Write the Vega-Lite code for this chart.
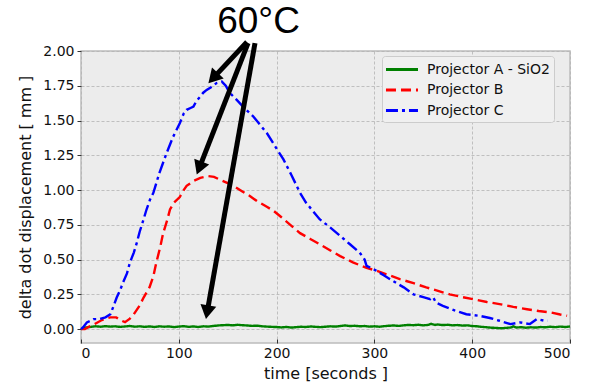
{
  "$schema": "https://vega.github.io/schema/vega-lite/v6.json",
  "width": 489,
  "height": 292,
  "autosize": {"type": "none"},
  "padding": {"left": 81, "top": 51, "right": 20, "bottom": 41},
  "background": "white",
  "config": {
    "view": {"fill": "#ececec", "stroke": "#bcbcbc", "strokeWidth": 1.5},
    "axis": {
      "domain": false,
      "gridColor": "#b4b4b4",
      "gridDash": [3, 2],
      "gridWidth": 0.8,
      "tickColor": "#333333",
      "tickWidth": 1,
      "labelFont": "DejaVu Sans",
      "labelFontSize": 14,
      "labelColor": "#111111",
      "labelOverlap": false,
      "titleFont": "DejaVu Sans",
      "titleFontSize": 16,
      "titleFontWeight": "normal",
      "titleColor": "#111111"
    }
  },
  "datasets": {
    "lines": [
      {"time": 0, "value": 0.0, "series": "Projector A - SiO2"},
      {"time": 5, "value": 0.012, "series": "Projector A - SiO2"},
      {"time": 10, "value": 0.016, "series": "Projector A - SiO2"},
      {"time": 15, "value": 0.02, "series": "Projector A - SiO2"},
      {"time": 20, "value": 0.017, "series": "Projector A - SiO2"},
      {"time": 25, "value": 0.021, "series": "Projector A - SiO2"},
      {"time": 30, "value": 0.018, "series": "Projector A - SiO2"},
      {"time": 35, "value": 0.02, "series": "Projector A - SiO2"},
      {"time": 40, "value": 0.016, "series": "Projector A - SiO2"},
      {"time": 45, "value": 0.019, "series": "Projector A - SiO2"},
      {"time": 50, "value": 0.022, "series": "Projector A - SiO2"},
      {"time": 55, "value": 0.017, "series": "Projector A - SiO2"},
      {"time": 60, "value": 0.02, "series": "Projector A - SiO2"},
      {"time": 65, "value": 0.016, "series": "Projector A - SiO2"},
      {"time": 70, "value": 0.019, "series": "Projector A - SiO2"},
      {"time": 75, "value": 0.015, "series": "Projector A - SiO2"},
      {"time": 80, "value": 0.02, "series": "Projector A - SiO2"},
      {"time": 85, "value": 0.017, "series": "Projector A - SiO2"},
      {"time": 90, "value": 0.019, "series": "Projector A - SiO2"},
      {"time": 95, "value": 0.014, "series": "Projector A - SiO2"},
      {"time": 100, "value": 0.018, "series": "Projector A - SiO2"},
      {"time": 105, "value": 0.021, "series": "Projector A - SiO2"},
      {"time": 110, "value": 0.016, "series": "Projector A - SiO2"},
      {"time": 115, "value": 0.019, "series": "Projector A - SiO2"},
      {"time": 120, "value": 0.015, "series": "Projector A - SiO2"},
      {"time": 125, "value": 0.02, "series": "Projector A - SiO2"},
      {"time": 130, "value": 0.018, "series": "Projector A - SiO2"},
      {"time": 135, "value": 0.022, "series": "Projector A - SiO2"},
      {"time": 140, "value": 0.026, "series": "Projector A - SiO2"},
      {"time": 145, "value": 0.028, "series": "Projector A - SiO2"},
      {"time": 150, "value": 0.03, "series": "Projector A - SiO2"},
      {"time": 155, "value": 0.027, "series": "Projector A - SiO2"},
      {"time": 160, "value": 0.031, "series": "Projector A - SiO2"},
      {"time": 165, "value": 0.028, "series": "Projector A - SiO2"},
      {"time": 170, "value": 0.026, "series": "Projector A - SiO2"},
      {"time": 175, "value": 0.023, "series": "Projector A - SiO2"},
      {"time": 180, "value": 0.025, "series": "Projector A - SiO2"},
      {"time": 185, "value": 0.02, "series": "Projector A - SiO2"},
      {"time": 190, "value": 0.018, "series": "Projector A - SiO2"},
      {"time": 195, "value": 0.016, "series": "Projector A - SiO2"},
      {"time": 200, "value": 0.015, "series": "Projector A - SiO2"},
      {"time": 205, "value": 0.012, "series": "Projector A - SiO2"},
      {"time": 210, "value": 0.015, "series": "Projector A - SiO2"},
      {"time": 215, "value": 0.011, "series": "Projector A - SiO2"},
      {"time": 220, "value": 0.014, "series": "Projector A - SiO2"},
      {"time": 225, "value": 0.017, "series": "Projector A - SiO2"},
      {"time": 230, "value": 0.015, "series": "Projector A - SiO2"},
      {"time": 235, "value": 0.019, "series": "Projector A - SiO2"},
      {"time": 240, "value": 0.016, "series": "Projector A - SiO2"},
      {"time": 245, "value": 0.014, "series": "Projector A - SiO2"},
      {"time": 250, "value": 0.017, "series": "Projector A - SiO2"},
      {"time": 255, "value": 0.02, "series": "Projector A - SiO2"},
      {"time": 260, "value": 0.018, "series": "Projector A - SiO2"},
      {"time": 265, "value": 0.022, "series": "Projector A - SiO2"},
      {"time": 270, "value": 0.026, "series": "Projector A - SiO2"},
      {"time": 275, "value": 0.022, "series": "Projector A - SiO2"},
      {"time": 280, "value": 0.024, "series": "Projector A - SiO2"},
      {"time": 285, "value": 0.02, "series": "Projector A - SiO2"},
      {"time": 290, "value": 0.022, "series": "Projector A - SiO2"},
      {"time": 295, "value": 0.018, "series": "Projector A - SiO2"},
      {"time": 300, "value": 0.02, "series": "Projector A - SiO2"},
      {"time": 305, "value": 0.017, "series": "Projector A - SiO2"},
      {"time": 310, "value": 0.021, "series": "Projector A - SiO2"},
      {"time": 315, "value": 0.024, "series": "Projector A - SiO2"},
      {"time": 320, "value": 0.026, "series": "Projector A - SiO2"},
      {"time": 325, "value": 0.023, "series": "Projector A - SiO2"},
      {"time": 330, "value": 0.027, "series": "Projector A - SiO2"},
      {"time": 335, "value": 0.03, "series": "Projector A - SiO2"},
      {"time": 340, "value": 0.028, "series": "Projector A - SiO2"},
      {"time": 345, "value": 0.031, "series": "Projector A - SiO2"},
      {"time": 350, "value": 0.027, "series": "Projector A - SiO2"},
      {"time": 355, "value": 0.03, "series": "Projector A - SiO2"},
      {"time": 358, "value": 0.038, "series": "Projector A - SiO2"},
      {"time": 362, "value": 0.03, "series": "Projector A - SiO2"},
      {"time": 365, "value": 0.033, "series": "Projector A - SiO2"},
      {"time": 370, "value": 0.029, "series": "Projector A - SiO2"},
      {"time": 375, "value": 0.031, "series": "Projector A - SiO2"},
      {"time": 380, "value": 0.027, "series": "Projector A - SiO2"},
      {"time": 385, "value": 0.029, "series": "Projector A - SiO2"},
      {"time": 390, "value": 0.025, "series": "Projector A - SiO2"},
      {"time": 395, "value": 0.027, "series": "Projector A - SiO2"},
      {"time": 400, "value": 0.022, "series": "Projector A - SiO2"},
      {"time": 405, "value": 0.02, "series": "Projector A - SiO2"},
      {"time": 410, "value": 0.016, "series": "Projector A - SiO2"},
      {"time": 415, "value": 0.013, "series": "Projector A - SiO2"},
      {"time": 420, "value": 0.01, "series": "Projector A - SiO2"},
      {"time": 425, "value": 0.008, "series": "Projector A - SiO2"},
      {"time": 430, "value": 0.006, "series": "Projector A - SiO2"},
      {"time": 435, "value": 0.009, "series": "Projector A - SiO2"},
      {"time": 440, "value": 0.012, "series": "Projector A - SiO2"},
      {"time": 442, "value": 0.02, "series": "Projector A - SiO2"},
      {"time": 445, "value": 0.011, "series": "Projector A - SiO2"},
      {"time": 450, "value": 0.014, "series": "Projector A - SiO2"},
      {"time": 455, "value": 0.01, "series": "Projector A - SiO2"},
      {"time": 460, "value": 0.013, "series": "Projector A - SiO2"},
      {"time": 465, "value": 0.011, "series": "Projector A - SiO2"},
      {"time": 470, "value": 0.015, "series": "Projector A - SiO2"},
      {"time": 475, "value": 0.013, "series": "Projector A - SiO2"},
      {"time": 480, "value": 0.017, "series": "Projector A - SiO2"},
      {"time": 485, "value": 0.014, "series": "Projector A - SiO2"},
      {"time": 490, "value": 0.018, "series": "Projector A - SiO2"},
      {"time": 495, "value": 0.015, "series": "Projector A - SiO2"},
      {"time": 500, "value": 0.019, "series": "Projector A - SiO2"},

      {"time": 0, "value": 0.0, "series": "Projector B"},
      {"time": 4, "value": 0.0, "series": "Projector B"},
      {"time": 10, "value": 0.025, "series": "Projector B"},
      {"time": 14, "value": 0.036, "series": "Projector B"},
      {"time": 20, "value": 0.06, "series": "Projector B"},
      {"time": 25, "value": 0.075, "series": "Projector B"},
      {"time": 30, "value": 0.084, "series": "Projector B"},
      {"time": 36, "value": 0.084, "series": "Projector B"},
      {"time": 40, "value": 0.065, "series": "Projector B"},
      {"time": 45, "value": 0.05, "series": "Projector B"},
      {"time": 50, "value": 0.075, "series": "Projector B"},
      {"time": 54, "value": 0.107, "series": "Projector B"},
      {"time": 60, "value": 0.17, "series": "Projector B"},
      {"time": 64, "value": 0.227, "series": "Projector B"},
      {"time": 70, "value": 0.3, "series": "Projector B"},
      {"time": 74, "value": 0.38, "series": "Projector B"},
      {"time": 77, "value": 0.478, "series": "Projector B"},
      {"time": 81, "value": 0.59, "series": "Projector B"},
      {"time": 84, "value": 0.69, "series": "Projector B"},
      {"time": 88, "value": 0.78, "series": "Projector B"},
      {"time": 91, "value": 0.86, "series": "Projector B"},
      {"time": 95, "value": 0.91, "series": "Projector B"},
      {"time": 98, "value": 0.93, "series": "Projector B"},
      {"time": 101, "value": 0.95, "series": "Projector B"},
      {"time": 105, "value": 1.0, "series": "Projector B"},
      {"time": 108, "value": 1.03, "series": "Projector B"},
      {"time": 115, "value": 1.065, "series": "Projector B"},
      {"time": 122, "value": 1.087, "series": "Projector B"},
      {"time": 130, "value": 1.1, "series": "Projector B"},
      {"time": 136, "value": 1.095, "series": "Projector B"},
      {"time": 142, "value": 1.075, "series": "Projector B"},
      {"time": 150, "value": 1.05, "series": "Projector B"},
      {"time": 156, "value": 1.03, "series": "Projector B"},
      {"time": 165, "value": 0.99, "series": "Projector B"},
      {"time": 173, "value": 0.956, "series": "Projector B"},
      {"time": 180, "value": 0.92, "series": "Projector B"},
      {"time": 190, "value": 0.88, "series": "Projector B"},
      {"time": 197, "value": 0.85, "series": "Projector B"},
      {"time": 204, "value": 0.81, "series": "Projector B"},
      {"time": 214, "value": 0.75, "series": "Projector B"},
      {"time": 224, "value": 0.69, "series": "Projector B"},
      {"time": 234, "value": 0.65, "series": "Projector B"},
      {"time": 244, "value": 0.61, "series": "Projector B"},
      {"time": 255, "value": 0.565, "series": "Projector B"},
      {"time": 265, "value": 0.525, "series": "Projector B"},
      {"time": 278, "value": 0.48, "series": "Projector B"},
      {"time": 292, "value": 0.44, "series": "Projector B"},
      {"time": 302, "value": 0.42, "series": "Projector B"},
      {"time": 314, "value": 0.39, "series": "Projector B"},
      {"time": 326, "value": 0.36, "series": "Projector B"},
      {"time": 340, "value": 0.33, "series": "Projector B"},
      {"time": 353, "value": 0.3, "series": "Projector B"},
      {"time": 365, "value": 0.275, "series": "Projector B"},
      {"time": 377, "value": 0.25, "series": "Projector B"},
      {"time": 390, "value": 0.23, "series": "Projector B"},
      {"time": 401, "value": 0.215, "series": "Projector B"},
      {"time": 415, "value": 0.195, "series": "Projector B"},
      {"time": 428, "value": 0.18, "series": "Projector B"},
      {"time": 442, "value": 0.16, "series": "Projector B"},
      {"time": 456, "value": 0.143, "series": "Projector B"},
      {"time": 468, "value": 0.13, "series": "Projector B"},
      {"time": 480, "value": 0.12, "series": "Projector B"},
      {"time": 490, "value": 0.105, "series": "Projector B"},
      {"time": 497, "value": 0.096, "series": "Projector B"},

      {"time": 0, "value": 0.0, "series": "\u00a0Projector C"},
      {"time": 2, "value": 0.012, "series": "\u00a0Projector C"},
      {"time": 6, "value": 0.048, "series": "\u00a0Projector C"},
      {"time": 10, "value": 0.06, "series": "\u00a0Projector C"},
      {"time": 13, "value": 0.072, "series": "\u00a0Projector C"},
      {"time": 19, "value": 0.072, "series": "\u00a0Projector C"},
      {"time": 25, "value": 0.085, "series": "\u00a0Projector C"},
      {"time": 30, "value": 0.107, "series": "\u00a0Projector C"},
      {"time": 33, "value": 0.16, "series": "\u00a0Projector C"},
      {"time": 36.5, "value": 0.227, "series": "\u00a0Projector C"},
      {"time": 40, "value": 0.28, "series": "\u00a0Projector C"},
      {"time": 43, "value": 0.335, "series": "\u00a0Projector C"},
      {"time": 47, "value": 0.4, "series": "\u00a0Projector C"},
      {"time": 50, "value": 0.478, "series": "\u00a0Projector C"},
      {"time": 54, "value": 0.55, "series": "\u00a0Projector C"},
      {"time": 57, "value": 0.62, "series": "\u00a0Projector C"},
      {"time": 60, "value": 0.7, "series": "\u00a0Projector C"},
      {"time": 64, "value": 0.79, "series": "\u00a0Projector C"},
      {"time": 67, "value": 0.86, "series": "\u00a0Projector C"},
      {"time": 70.5, "value": 0.93, "series": "\u00a0Projector C"},
      {"time": 74, "value": 0.98, "series": "\u00a0Projector C"},
      {"time": 80, "value": 1.12, "series": "\u00a0Projector C"},
      {"time": 87.6, "value": 1.267, "series": "\u00a0Projector C"},
      {"time": 94, "value": 1.38, "series": "\u00a0Projector C"},
      {"time": 101, "value": 1.48, "series": "\u00a0Projector C"},
      {"time": 105, "value": 1.55, "series": "\u00a0Projector C"},
      {"time": 108, "value": 1.577, "series": "\u00a0Projector C"},
      {"time": 112, "value": 1.59, "series": "\u00a0Projector C"},
      {"time": 115, "value": 1.6, "series": "\u00a0Projector C"},
      {"time": 118, "value": 1.64, "series": "\u00a0Projector C"},
      {"time": 121.7, "value": 1.67, "series": "\u00a0Projector C"},
      {"time": 125, "value": 1.7, "series": "\u00a0Projector C"},
      {"time": 128.5, "value": 1.72, "series": "\u00a0Projector C"},
      {"time": 133, "value": 1.74, "series": "\u00a0Projector C"},
      {"time": 138.7, "value": 1.77, "series": "\u00a0Projector C"},
      {"time": 144, "value": 1.78, "series": "\u00a0Projector C"},
      {"time": 148, "value": 1.75, "series": "\u00a0Projector C"},
      {"time": 152, "value": 1.7, "series": "\u00a0Projector C"},
      {"time": 159, "value": 1.65, "series": "\u00a0Projector C"},
      {"time": 167, "value": 1.59, "series": "\u00a0Projector C"},
      {"time": 176, "value": 1.53, "series": "\u00a0Projector C"},
      {"time": 183, "value": 1.47, "series": "\u00a0Projector C"},
      {"time": 190, "value": 1.41, "series": "\u00a0Projector C"},
      {"time": 198, "value": 1.32, "series": "\u00a0Projector C"},
      {"time": 207, "value": 1.22, "series": "\u00a0Projector C"},
      {"time": 215, "value": 1.11, "series": "\u00a0Projector C"},
      {"time": 224, "value": 0.98, "series": "\u00a0Projector C"},
      {"time": 230, "value": 0.91, "series": "\u00a0Projector C"},
      {"time": 237, "value": 0.85, "series": "\u00a0Projector C"},
      {"time": 244, "value": 0.79, "series": "\u00a0Projector C"},
      {"time": 255, "value": 0.73, "series": "\u00a0Projector C"},
      {"time": 265, "value": 0.67, "series": "\u00a0Projector C"},
      {"time": 275, "value": 0.61, "series": "\u00a0Projector C"},
      {"time": 285, "value": 0.55, "series": "\u00a0Projector C"},
      {"time": 290, "value": 0.5, "series": "\u00a0Projector C"},
      {"time": 292, "value": 0.455, "series": "\u00a0Projector C"},
      {"time": 302, "value": 0.42, "series": "\u00a0Projector C"},
      {"time": 310, "value": 0.385, "series": "\u00a0Projector C"},
      {"time": 319, "value": 0.346, "series": "\u00a0Projector C"},
      {"time": 330, "value": 0.3, "series": "\u00a0Projector C"},
      {"time": 340, "value": 0.25, "series": "\u00a0Projector C"},
      {"time": 350, "value": 0.23, "series": "\u00a0Projector C"},
      {"time": 357, "value": 0.215, "series": "\u00a0Projector C"},
      {"time": 360, "value": 0.23, "series": "\u00a0Projector C"},
      {"time": 363, "value": 0.19, "series": "\u00a0Projector C"},
      {"time": 370, "value": 0.167, "series": "\u00a0Projector C"},
      {"time": 382, "value": 0.135, "series": "\u00a0Projector C"},
      {"time": 394, "value": 0.107, "series": "\u00a0Projector C"},
      {"time": 408, "value": 0.095, "series": "\u00a0Projector C"},
      {"time": 418, "value": 0.08, "series": "\u00a0Projector C"},
      {"time": 428, "value": 0.06, "series": "\u00a0Projector C"},
      {"time": 439, "value": 0.036, "series": "\u00a0Projector C"},
      {"time": 449, "value": 0.048, "series": "\u00a0Projector C"},
      {"time": 459, "value": 0.036, "series": "\u00a0Projector C"},
      {"time": 466, "value": 0.072, "series": "\u00a0Projector C"},
      {"time": 474, "value": 0.06, "series": "\u00a0Projector C"},
      {"time": 477, "value": 0.06, "series": "\u00a0Projector C"}
    ],
    "arrows": [
      {"arrow": 1, "t0": 169.7, "v0": 2.065, "t1": 135.1, "v1": 1.805},
      {"arrow": 2, "t0": 170.8, "v0": 2.057, "t1": 120.9, "v1": 1.158},
      {"arrow": 3, "t0": 177.9, "v0": 2.057, "t1": 129.0, "v1": 0.121}
    ],
    "label": [
      {"t": 181.5, "v": 2.129, "text": "60°C"}
    ]
  },
  "layer": [
    {
      "data": {"name": "lines"},
      "mark": {"type": "line", "strokeWidth": 2.4, "interpolate": "linear"},
      "encoding": {
        "x": {
          "field": "time", "type": "quantitative", "title": "time [seconds ]",
          "scale": {"domain": [0, 500], "nice": false, "zero": false},
          "axis": {"values": [0, 100, 200, 300, 400, 500], "tickSize": -4, "labelPadding": 7, "titlePadding": 5, "format": "d"}
        },
        "y": {
          "field": "value", "type": "quantitative", "title": "delta dot displacement [ mm ]",
          "scale": {"domain": [-0.1, 2.0], "nice": false, "zero": false},
          "axis": {"values": [0, 0.25, 0.5, 0.75, 1.0, 1.25, 1.5, 1.75, 2.0], "format": ".2f", "tickSize": 4, "labelPadding": 3, "titlePadding": 9, "labelOverlap": false}
        },
        "color": {
          "field": "series", "type": "nominal",
          "scale": {"domain": ["Projector A - SiO2", "Projector B", "\u00a0Projector C"], "range": ["#008000", "#ff0000", "#0000ff"]},
          "legend": {
            "title": null, "orient": "none", "legendX": 301, "legendY": 5,
            "fillColor": "#f0f0f0", "strokeColor": "#cccccc", "cornerRadius": 3, "padding": 4,
            "symbolType": "M-1.19,0L2.81,0", "symbolSize": 256, "symbolStrokeWidth": 3,
            "labelFont": "DejaVu Sans", "labelFontSize": 14, "labelColor": "#111111", "labelOffset": 22,
            "rowPadding": 3.5
          }
        },
        "strokeDash": {
          "field": "series", "type": "nominal",
          "scale": {"domain": ["Projector A - SiO2", "Projector B", "\u00a0Projector C"], "range": [[1, 0], [10, 5], [12, 4, 3, 4]]},
          "legend": {
            "title": null, "orient": "none", "legendX": 301, "legendY": 5,
            "fillColor": "#f0f0f0", "strokeColor": "#cccccc", "cornerRadius": 3, "padding": 4,
            "symbolType": "M-1.19,0L2.81,0", "symbolSize": 256, "symbolStrokeWidth": 3,
            "labelFont": "DejaVu Sans", "labelFontSize": 14, "labelColor": "#111111", "labelOffset": 22,
            "rowPadding": 3.5
          }
        }
      }
    },
    {
      "data": {"name": "arrows"},
      "mark": {"type": "rule", "color": "black", "strokeWidth": 5},
      "encoding": {
        "x": {"field": "t0", "type": "quantitative", "title": "time [seconds ]",
          "axis": {"values": [0, 100, 200, 300, 400, 500], "tickSize": -4, "labelPadding": 7, "titlePadding": 5, "format": "d"}},
        "y": {"field": "v0", "type": "quantitative", "title": "delta dot displacement [ mm ]",
          "axis": {"values": [0, 0.25, 0.5, 0.75, 1.0, 1.25, 1.5, 1.75, 2.0], "format": ".2f", "tickSize": 4, "labelPadding": 3, "titlePadding": 9, "labelOverlap": false}},
        "x2": {"field": "t1"},
        "y2": {"field": "v1"}
      }
    },
    {
      "data": {"name": "arrows"},
      "transform": [{"filter": "datum.arrow == 1"}],
      "mark": {"type": "point", "shape": "triangle-up", "filled": true, "color": "black", "size": 256, "opacity": 1, "angle": 223},
      "encoding": {
        "x": {"field": "t1", "type": "quantitative", "title": "time [seconds ]",
          "axis": {"values": [0, 100, 200, 300, 400, 500], "tickSize": -4, "labelPadding": 7, "titlePadding": 5, "format": "d"}},
        "y": {"field": "v1", "type": "quantitative", "title": "delta dot displacement [ mm ]",
          "axis": {"values": [0, 0.25, 0.5, 0.75, 1.0, 1.25, 1.5, 1.75, 2.0], "format": ".2f", "tickSize": 4, "labelPadding": 3, "titlePadding": 9, "labelOverlap": false}}
      }
    },
    {
      "data": {"name": "arrows"},
      "transform": [{"filter": "datum.arrow == 2"}],
      "mark": {"type": "point", "shape": "triangle-up", "filled": true, "color": "black", "size": 256, "opacity": 1, "angle": 201},
      "encoding": {
        "x": {"field": "t1", "type": "quantitative", "title": "time [seconds ]",
          "axis": {"values": [0, 100, 200, 300, 400, 500], "tickSize": -4, "labelPadding": 7, "titlePadding": 5, "format": "d"}},
        "y": {"field": "v1", "type": "quantitative", "title": "delta dot displacement [ mm ]",
          "axis": {"values": [0, 0.25, 0.5, 0.75, 1.0, 1.25, 1.5, 1.75, 2.0], "format": ".2f", "tickSize": 4, "labelPadding": 3, "titlePadding": 9, "labelOverlap": false}}
      }
    },
    {
      "data": {"name": "arrows"},
      "transform": [{"filter": "datum.arrow == 3"}],
      "mark": {"type": "point", "shape": "triangle-up", "filled": true, "color": "black", "size": 256, "opacity": 1, "angle": 190},
      "encoding": {
        "x": {"field": "t1", "type": "quantitative", "title": "time [seconds ]",
          "axis": {"values": [0, 100, 200, 300, 400, 500], "tickSize": -4, "labelPadding": 7, "titlePadding": 5, "format": "d"}},
        "y": {"field": "v1", "type": "quantitative", "title": "delta dot displacement [ mm ]",
          "axis": {"values": [0, 0.25, 0.5, 0.75, 1.0, 1.25, 1.5, 1.75, 2.0], "format": ".2f", "tickSize": 4, "labelPadding": 3, "titlePadding": 9, "labelOverlap": false}}
      }
    },
    {
      "data": {"name": "label"},
      "mark": {"type": "text", "font": "Liberation Sans", "fontSize": 37, "align": "center", "baseline": "alphabetic", "color": "black"},
      "encoding": {
        "x": {"field": "t", "type": "quantitative", "title": "time [seconds ]",
          "axis": {"values": [0, 100, 200, 300, 400, 500], "tickSize": -4, "labelPadding": 7, "titlePadding": 5, "format": "d"}},
        "y": {"field": "v", "type": "quantitative", "title": "delta dot displacement [ mm ]",
          "axis": {"values": [0, 0.25, 0.5, 0.75, 1.0, 1.25, 1.5, 1.75, 2.0], "format": ".2f", "tickSize": 4, "labelPadding": 3, "titlePadding": 9, "labelOverlap": false}},
        "text": {"field": "text"}
      }
    }
  ]
}
